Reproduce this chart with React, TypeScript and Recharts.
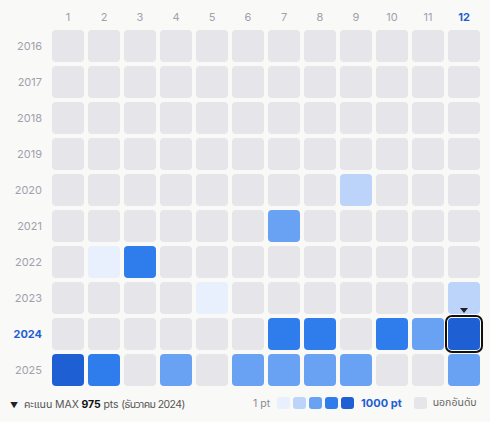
import React from "react";
import { ScatterChart, Scatter, XAxis, YAxis } from "recharts";

const months = [1, 2, 3, 4, 5, 6, 7, 8, 9, 10, 11, 12];
const years = [2016, 2017, 2018, 2019, 2020, 2021, 2022, 2023, 2024, 2025];
const N = null;
const scores2016 = [N, N, N, N, N, N, N, N, N, N, N, N];
const scores2017 = [N, N, N, N, N, N, N, N, N, N, N, N];
const scores2018 = [N, N, N, N, N, N, N, N, N, N, N, N];
const scores2019 = [N, N, N, N, N, N, N, N, N, N, N, N];
const scores2020 = [N, N, N, N, N, N, N, N, 300, N, N, N];
const scores2021 = [N, N, N, N, N, N, 480, N, N, N, N, N];
const scores2022 = [N, 120, 720, N, N, N, N, N, N, N, N, N];
const scores2023 = [N, N, N, N, 90, N, N, N, N, N, N, 310];
const scores2024 = [N, N, N, N, N, N, 700, 690, N, 710, 520, 975];
const scores2025 = [900, 740, N, 500, N, 470, 510, 490, 460, N, N, 530];
const scoreRows = [
  scores2016, scores2017, scores2018, scores2019, scores2020,
  scores2021, scores2022, scores2023, scores2024, scores2025,
];
const selected = { year: 2024, month: 12 };
const levelColors = ["#e8effd", "#bcd4fa", "#6aa2f3", "#2f7ced", "#1e5fd4"];
const emptyColor = "#e5e5ea";
const labelColor = "#a3a0ad";
const accent = "#1e5fd4";

const colorFor = (v: number | null) => {
  if (v == null) return emptyColor;
  if (v >= 800) return levelColors[4];
  if (v >= 600) return levelColors[3];
  if (v >= 400) return levelColors[2];
  if (v >= 200) return levelColors[1];
  return levelColors[0];
};

const data = years.flatMap((y, yi) =>
  months.map((m, mi) => ({ year: y, month: m, score: scoreRows[yi][mi] }))
);

const FONT = "Inter, 'Noto Sans Thai', 'Noto Sans Thai Looped', Loma, Garuda, 'Noto Sans', sans-serif";

const Cell = (props: any) => {
  const { cx, cy, payload } = props;
  if (cx == null || cy == null) return null;
  const s = 32;
  const isSel = payload.year === selected.year && payload.month === selected.month;
  return (
    <g>
      {isSel && (
        <rect x={cx - s / 2 - 2} y={cy - s / 2 - 2} width={s + 4} height={s + 4} rx={6} fill="#ffffff" stroke="#111111" strokeWidth={2} />
      )}
      <rect x={cx - s / 2} y={cy - s / 2} width={s} height={s} rx={4} fill={colorFor(payload.score)} />
      {isSel && (
        <path d={`M${cx - 4},${cy - s / 2 - 10} L${cx + 4},${cy - s / 2 - 10} L${cx},${cy - s / 2 - 5} Z`} fill="#222222" />
      )}
    </g>
  );
};

const MonthTick = (props: any) => {
  const { x, payload } = props;
  const sel = payload.value === selected.month;
  return (
    <text x={x} y={21} textAnchor="middle" fontSize={11} fontFamily={FONT} fill={sel ? accent : labelColor} fontWeight={sel ? 700 : 400}>
      {payload.value}
    </text>
  );
};

const YearTick = (props: any) => {
  const { y, payload } = props;
  const sel = payload.value === selected.year;
  return (
    <text x={42} y={y + 4} textAnchor="end" fontSize={11} fontFamily={FONT} fill={sel ? accent : labelColor} fontWeight={sel ? 700 : 400}>
      {payload.value}
    </text>
  );
};

const maxScore = Math.max(...(data.map((d) => d.score ?? 0)));

export default function App() {
  return (
    <div style={{ position: "absolute", left: 0, top: 0, width: 490, height: 422, background: "#f9f9f7", fontFamily: FONT }}>
      <ScatterChart width={490} height={422} margin={{ top: 0, right: 8, bottom: 34, left: 0 }}>
        <XAxis type="number" dataKey="month" orientation="top" domain={[0.5, 12.5]} ticks={months} height={28} axisLine={false} tickLine={false} tick={<MonthTick />} interval={0} />
        <YAxis type="number" dataKey="year" domain={[2015.5, 2025.5]} reversed ticks={years} width={50} axisLine={false} tickLine={false} tick={<YearTick />} interval={0} />
        <Scatter data={data} shape={<Cell />} isAnimationActive={false} />
      </ScatterChart>
      <div style={{ position: "absolute", left: 10, top: 397, fontSize: 10.5, color: "#555", whiteSpace: "nowrap", display: "flex", alignItems: "center", letterSpacing: -0.1 }}>
        <span style={{ fontSize: 8, marginRight: 6, color: "#222" }}>▼</span>
        <span>คะแนน MAX <b style={{ color: "#111" }}>{maxScore}</b> pts <span style={{ letterSpacing: -0.6 }}>(ธันวาคม 2024)</span></span>
      </div>
      <div style={{ position: "absolute", left: 253, top: 396, fontSize: 10.5, color: "#8d8b96", whiteSpace: "nowrap", display: "flex", alignItems: "center", height: 14 }}>
        <span style={{ marginRight: 7 }}>1 pt</span>
        {levelColors.map((c) => (
          <span key={c} style={{ display: "inline-block", width: 13, height: 12, borderRadius: 3, background: c, marginRight: 3 }} />
        ))}
        <span style={{ marginLeft: 4, color: accent, fontWeight: 700, fontSize: 11 }}>1000 pt</span>
        <span style={{ display: "inline-block", width: 13, height: 12, borderRadius: 3, background: emptyColor, marginLeft: 12, marginRight: 6 }} />
        <span style={{ color: "#666" }}>นอกอันดับ</span>
      </div>
    </div>
  );
}
